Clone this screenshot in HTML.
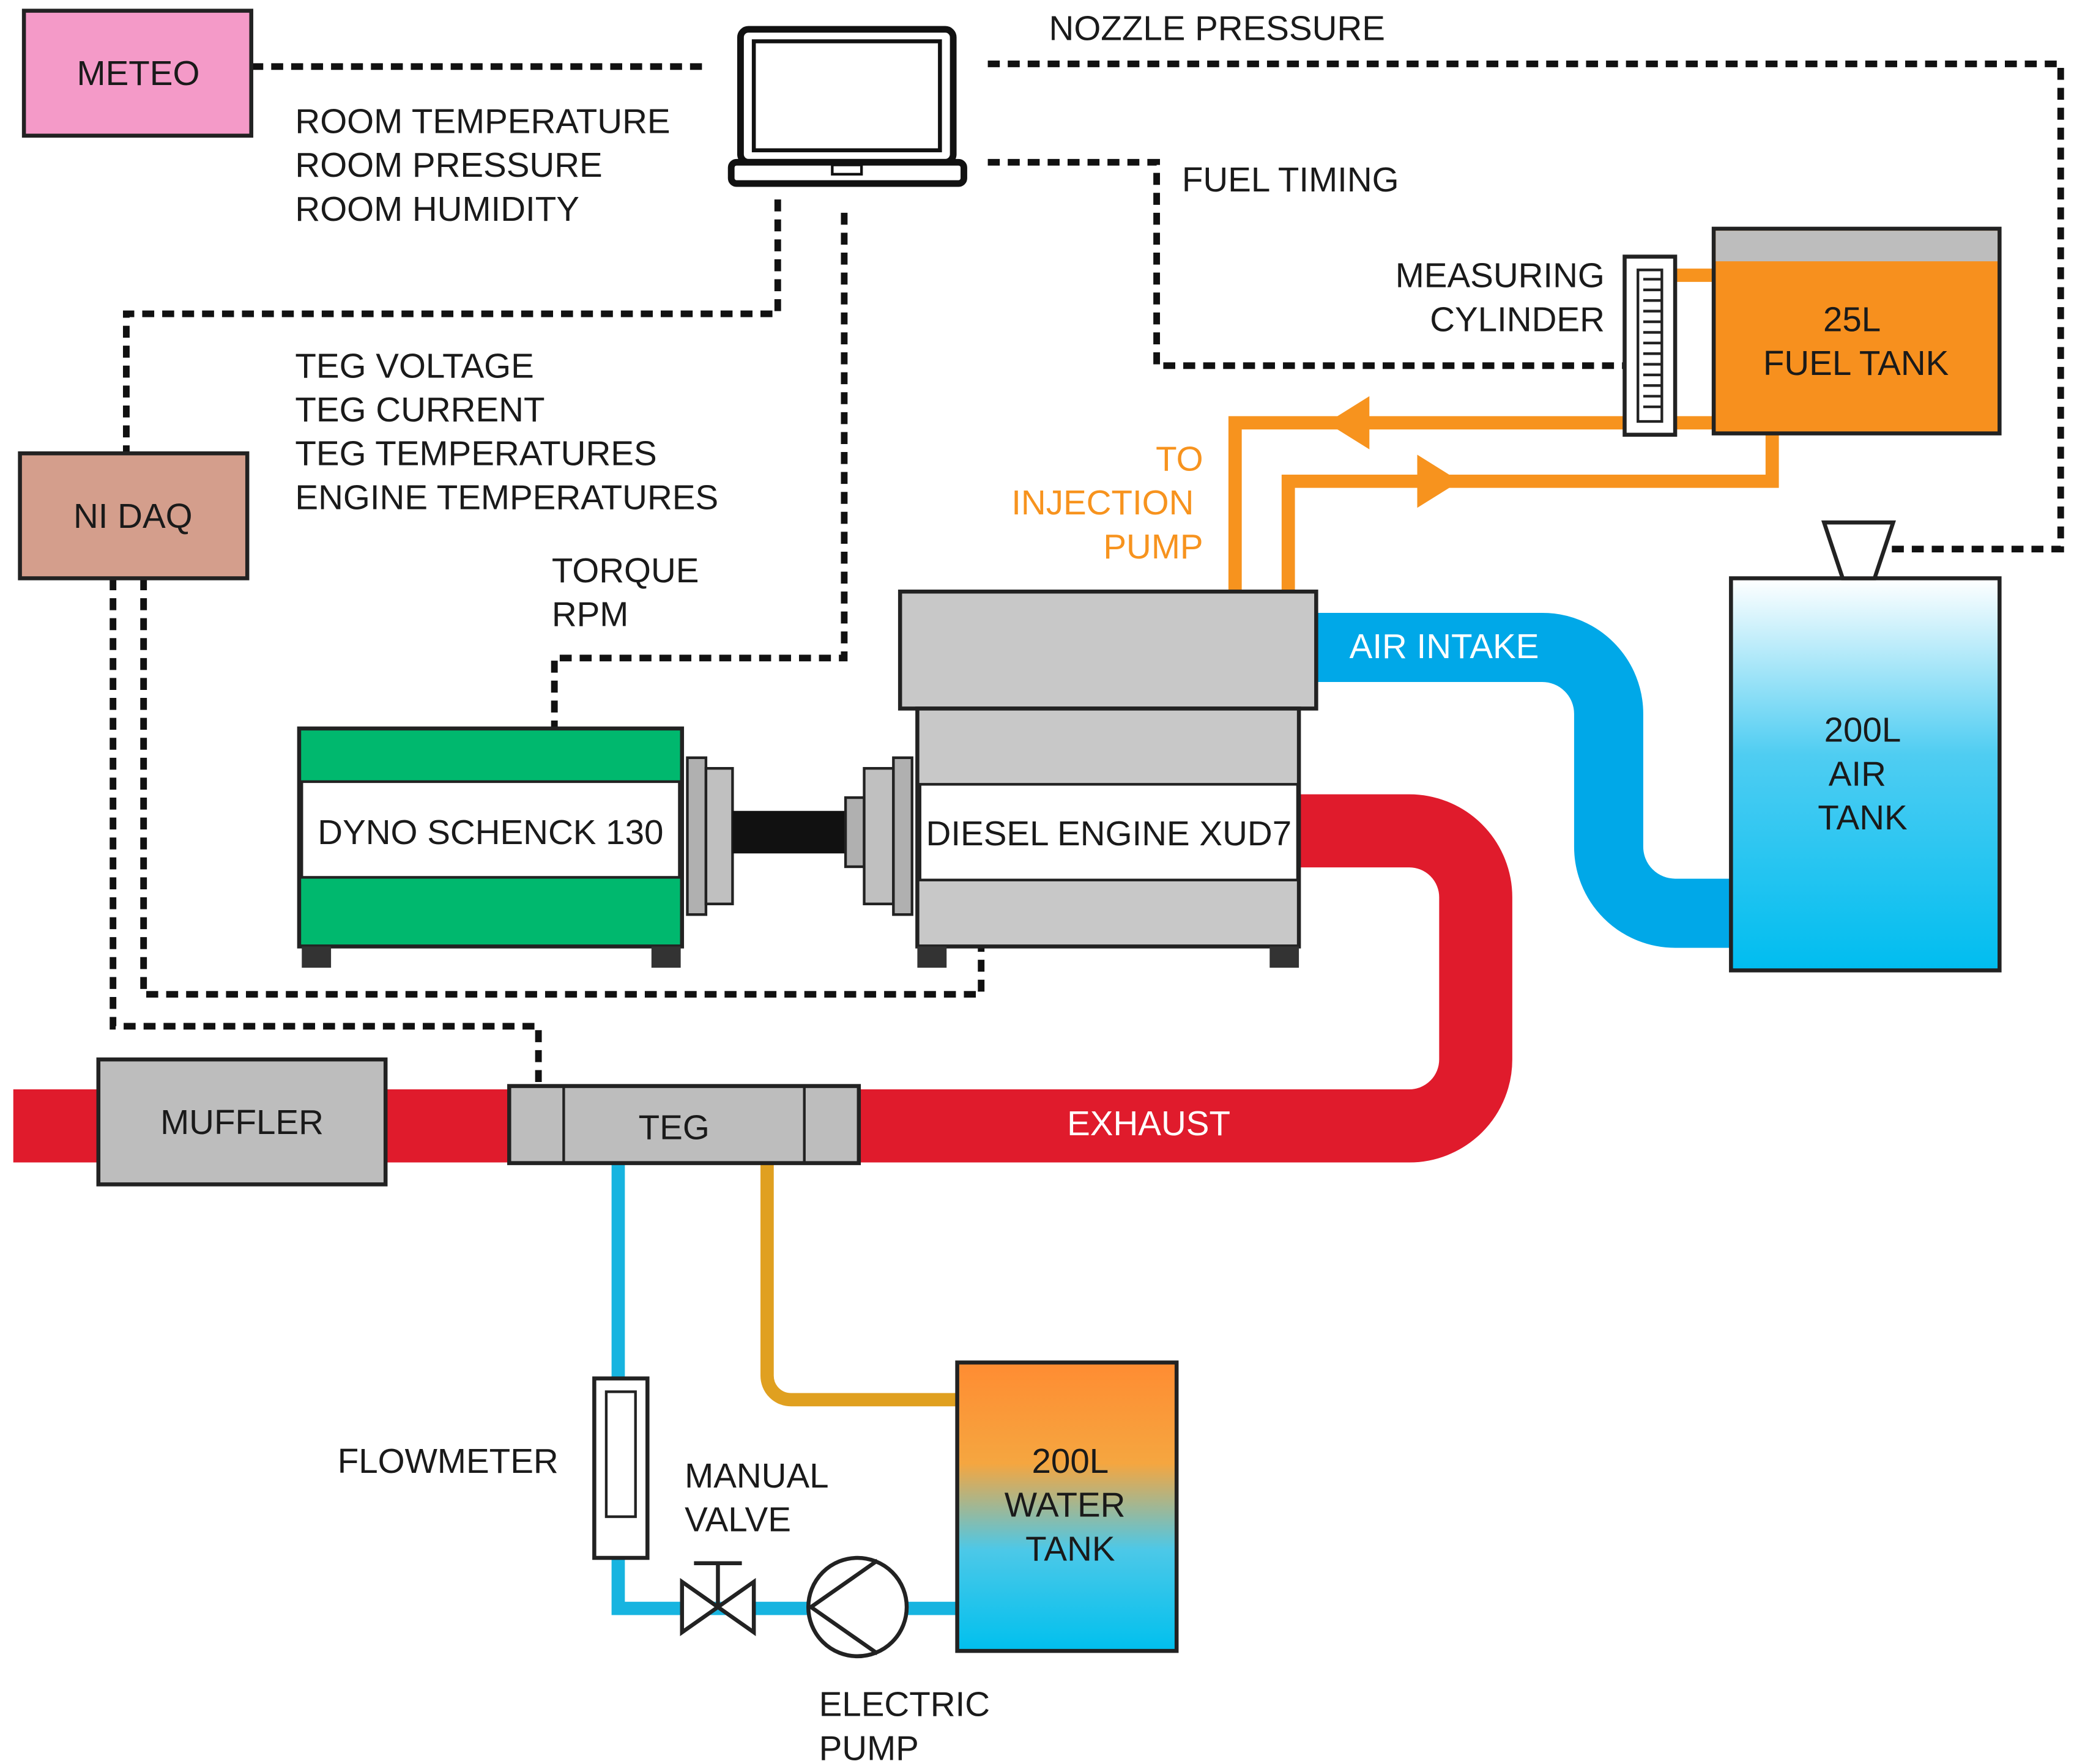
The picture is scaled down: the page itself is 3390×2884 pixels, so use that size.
<!DOCTYPE html>
<html><head><meta charset="utf-8"><style>
html,body{margin:0;padding:0;background:#fff;}
svg{display:block;}
text{font-family:"Liberation Sans",Arial,sans-serif;font-size:26px;fill:#1a1a1a;}
</style></head><body>
<svg width="3390" height="2884" viewBox="0 0 1560 1327" xmlns="http://www.w3.org/2000/svg">
<defs>
<linearGradient id="air" x1="0" y1="0" x2="0" y2="1"><stop offset="0" stop-color="#ffffff"/><stop offset="0.45" stop-color="#4fcdf2"/><stop offset="1" stop-color="#00bdf0"/></linearGradient>
<linearGradient id="wat" x1="0" y1="0" x2="0" y2="1"><stop offset="0" stop-color="#ff8c32"/><stop offset="0.35" stop-color="#f5a640"/><stop offset="0.65" stop-color="#4cc8e8"/><stop offset="1" stop-color="#00c0ee"/></linearGradient>
</defs>
<g fill="none" stroke="#111" stroke-width="5" stroke-dasharray="9 6">
<polyline points="189,50 532,50"/>
<polyline points="743,48 1550,48 1550,413 1420,413"/>
<polyline points="743,122 870,122 870,275 1222,275"/>
<polyline points="585,150 585,236 95,236 95,341"/>
<polyline points="635,160 635,495 417,495 417,548"/>
<polyline points="85,435 85,772 405,772 405,817"/>
<polyline points="108,435 108,748 738,748 738,712"/>
</g>
<!-- exhaust -->
<path d="M978,625 L1060,625 A50,50 0 0 1 1110,675 L1110,797 A50,50 0 0 1 1060,847 L10,847" fill="none" stroke="#e01b2c" stroke-width="55"/>
<!-- air intake -->
<path d="M990,487 L1160,487 A50,50 0 0 1 1210,537 L1210,637 A50,50 0 0 0 1260,687 L1305,687" fill="none" stroke="#00a8e8" stroke-width="52"/>
<!-- orange fuel lines -->
<g fill="none" stroke="#f7931e" stroke-width="10">
<polyline points="929,445 929,318 1222,318"/>
<polyline points="969,445 969,362 1333,362 1333,326"/>
<line x1="1260" y1="207" x2="1290" y2="207"/><line x1="1260" y1="318" x2="1290" y2="318"/>
</g>
<polygon points="998,318 1030,298 1030,338" fill="#f7931e"/>
<polygon points="1098,362 1066,342 1066,382" fill="#f7931e"/>
<!-- water lines -->
<g fill="none" stroke-width="10">
<polyline points="465,875 465,1037" stroke="#17b4e0"/>
<polyline points="465,1172 465,1210 720,1210" stroke="#17b4e0"/>
<path d="M577,875 L577,1035 A18,18 0 0 0 595,1053 L720,1053" stroke="#e0a020"/>
</g>
<!-- METEO -->
<rect x="18" y="8" width="171" height="94" fill="#f49ac8" stroke="#222" stroke-width="3"/>
<text x="104" y="64" text-anchor="middle">METEO</text>
<!-- laptop -->
<rect x="557" y="22" width="160" height="100" rx="6" fill="#fff" stroke="#111" stroke-width="5"/>
<rect x="567" y="31" width="140" height="82" fill="#fff" stroke="#111" stroke-width="3"/>
<rect x="550" y="122" width="175" height="16" rx="4" fill="#fff" stroke="#111" stroke-width="5"/>
<rect x="626" y="124" width="22" height="7" fill="#fff" stroke="#111" stroke-width="2"/>
<!-- NI DAQ -->
<rect x="15" y="341" width="171" height="94" fill="#d49e8c" stroke="#222" stroke-width="3"/>
<text x="100" y="397" text-anchor="middle">NI DAQ</text>
<text x="222" y="100">ROOM TEMPERATURE</text>
<text x="222" y="133">ROOM PRESSURE</text>
<text x="222" y="166">ROOM HUMIDITY</text>
<text x="222" y="284">TEG VOLTAGE</text>
<text x="222" y="317">TEG CURRENT</text>
<text x="222" y="350">TEG TEMPERATURES</text>
<text x="222" y="383">ENGINE TEMPERATURES</text>
<text x="415" y="438">TORQUE</text>
<text x="415" y="471">RPM</text>
<text x="789" y="30">NOZZLE PRESSURE</text>
<text x="889" y="144">FUEL TIMING</text>
<text x="1207" y="216" text-anchor="end">MEASURING</text>
<text x="1207" y="249" text-anchor="end">CYLINDER</text>
<text x="905" y="354" text-anchor="end" style="fill:#f7931e">TO</text>
<text x="898" y="387" text-anchor="end" style="fill:#f7931e">INJECTION</text>
<text x="905" y="420" text-anchor="end" style="fill:#f7931e">PUMP</text>
<!-- fuel tank -->
<rect x="1289" y="172" width="215" height="154" fill="#f7901e" stroke="#222" stroke-width="3"/>
<rect x="1290.5" y="173.5" width="212" height="23" fill="#bdbdbd"/>
<text x="1393" y="249" text-anchor="middle">25L</text>
<text x="1396" y="282" text-anchor="middle">FUEL TANK</text>
<!-- measuring cylinder -->
<rect x="1222" y="193" width="38" height="134" fill="#fff" stroke="#222" stroke-width="3"/>
<rect x="1232" y="203" width="18" height="114" fill="#fff" stroke="#222" stroke-width="2"/>
<g stroke="#222" stroke-width="2">
<line x1="1236" y1="210" x2="1250" y2="210"/><line x1="1236" y1="218" x2="1250" y2="218"/><line x1="1236" y1="226" x2="1250" y2="226"/><line x1="1236" y1="234" x2="1250" y2="234"/><line x1="1236" y1="242" x2="1250" y2="242"/><line x1="1236" y1="250" x2="1250" y2="250"/><line x1="1236" y1="258" x2="1250" y2="258"/><line x1="1236" y1="266" x2="1250" y2="266"/><line x1="1236" y1="274" x2="1250" y2="274"/><line x1="1236" y1="282" x2="1250" y2="282"/><line x1="1236" y1="290" x2="1250" y2="290"/><line x1="1236" y1="298" x2="1250" y2="298"/><line x1="1236" y1="306" x2="1250" y2="306"/>
</g>
<!-- air tank -->
<rect x="1302" y="435" width="202" height="295" fill="url(#air)" stroke="#222" stroke-width="3"/>
<polygon points="1372,393 1424,393 1410,435 1386,435" fill="#fff" stroke="#222" stroke-width="3"/>
<text x="1401" y="558" text-anchor="middle">200L</text>
<text x="1397" y="591" text-anchor="middle">AIR</text>
<text x="1401" y="624" text-anchor="middle">TANK</text>
<text x="1015" y="495" style="fill:#fff">AIR INTAKE</text>
<!-- engine -->
<rect x="677" y="445" width="313" height="88" fill="#c8c8c8" stroke="#222" stroke-width="3"/>
<rect x="690" y="533" width="287" height="179" fill="#c8c8c8" stroke="#222" stroke-width="3"/>
<rect x="692" y="590" width="284" height="72" fill="#fff" stroke="#222" stroke-width="2"/>
<text x="834" y="636" text-anchor="middle">DIESEL ENGINE XUD7</text>
<rect x="690" y="712" width="22" height="16" fill="#333"/><rect x="955" y="712" width="22" height="16" fill="#333"/>
<!-- dyno -->
<rect x="225" y="548" width="288" height="164" fill="#00b86e" stroke="#222" stroke-width="3"/>
<rect x="227" y="588" width="284" height="72" fill="#fff" stroke="#222" stroke-width="2"/>
<text x="369" y="635" text-anchor="middle">DYNO SCHENCK 130</text>
<rect x="227" y="712" width="22" height="16" fill="#333"/><rect x="490" y="712" width="22" height="16" fill="#333"/>
<!-- coupling -->
<rect x="517" y="570" width="14" height="118" fill="#b0b0b0" stroke="#222" stroke-width="2"/>
<rect x="531" y="578" width="20" height="102" fill="#c0c0c0" stroke="#222" stroke-width="2"/>
<rect x="551" y="610" width="85" height="32" fill="#111"/>
<rect x="636" y="600" width="14" height="52" fill="#b0b0b0" stroke="#222" stroke-width="2"/>
<rect x="650" y="578" width="22" height="102" fill="#c0c0c0" stroke="#222" stroke-width="2"/>
<rect x="672" y="570" width="14" height="118" fill="#b0b0b0" stroke="#222" stroke-width="2"/>
<!-- muffler / TEG -->
<rect x="74" y="797" width="216" height="94" fill="#bdbdbd" stroke="#222" stroke-width="3"/>
<text x="182" y="853" text-anchor="middle">MUFFLER</text>
<rect x="383" y="817" width="263" height="58" fill="#bdbdbd" stroke="#222" stroke-width="3"/>
<line x1="424" y1="817" x2="424" y2="875" stroke="#222" stroke-width="2"/>
<line x1="605" y1="817" x2="605" y2="875" stroke="#222" stroke-width="2"/>
<text x="507" y="857" text-anchor="middle">TEG</text>
<text x="864" y="854" text-anchor="middle" style="fill:#fff">EXHAUST</text>
<!-- flowmeter -->
<rect x="447" y="1037" width="40" height="135" fill="#fff" stroke="#222" stroke-width="3"/>
<rect x="456" y="1047" width="22" height="94" fill="#fff" stroke="#222" stroke-width="2"/>
<text x="420" y="1108" text-anchor="end">FLOWMETER</text>
<text x="515" y="1119">MANUAL</text>
<text x="515" y="1152">VALVE</text>
<!-- valve -->
<polygon points="513,1190 567,1228 567,1190 513,1228" fill="#fff" stroke="#222" stroke-width="3"/>
<line x1="540" y1="1209" x2="540" y2="1176" stroke="#222" stroke-width="3"/>
<line x1="522" y1="1176" x2="558" y2="1176" stroke="#222" stroke-width="3"/>
<!-- pump -->
<circle cx="645" cy="1209" r="37" fill="#fff" stroke="#222" stroke-width="3"/>
<polyline points="660,1174 610,1209 660,1244" fill="none" stroke="#222" stroke-width="3"/>
<text x="616" y="1291">ELECTRIC</text>
<text x="616" y="1324">PUMP</text>
<!-- water tank -->
<rect x="720" y="1025" width="165" height="217" fill="url(#wat)" stroke="#222" stroke-width="3"/>
<text x="805" y="1108" text-anchor="middle">200L</text>
<text x="801" y="1141" text-anchor="middle">WATER</text>
<text x="805" y="1174" text-anchor="middle">TANK</text>
</svg>
</body></html>
